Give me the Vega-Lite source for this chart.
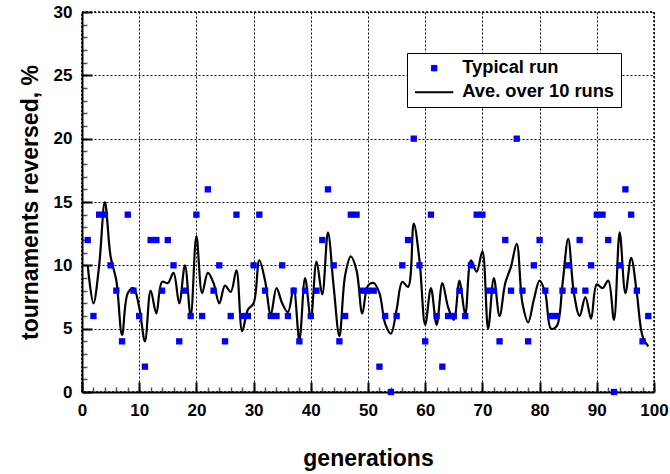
{
  "$schema": "https://vega.github.io/schema/vega-lite/v6.json",
  "width": 572,
  "height": 380,
  "autosize": "none",
  "padding": {"left": 82, "top": 12, "right": 16, "bottom": 82},
  "background": "white",
  "config": {
    "font": "Liberation Sans",
    "view": {"stroke": "black", "strokeDash": [2, 2], "strokeWidth": 1.5},
    "axis": {
      "labelFont": "Liberation Sans",
      "labelFontSize": 17,
      "labelFontWeight": "bold",
      "labelColor": "black",
      "titleFont": "Liberation Sans",
      "titleFontSize": 23,
      "titleFontWeight": "bold",
      "titleColor": "black"
    }
  },
  "datasets": {
    "run": [
      {"gen": 1, "val": 12, "series": "Typical run"}, {"gen": 2, "val": 6, "series": "Typical run"}, {"gen": 3, "val": 14, "series": "Typical run"}, {"gen": 4, "val": 14, "series": "Typical run"}, {"gen": 5, "val": 10, "series": "Typical run"},
      {"gen": 6, "val": 8, "series": "Typical run"}, {"gen": 7, "val": 4, "series": "Typical run"}, {"gen": 8, "val": 14, "series": "Typical run"}, {"gen": 9, "val": 8, "series": "Typical run"}, {"gen": 10, "val": 6, "series": "Typical run"},
      {"gen": 11, "val": 2, "series": "Typical run"}, {"gen": 12, "val": 12, "series": "Typical run"}, {"gen": 13, "val": 12, "series": "Typical run"}, {"gen": 14, "val": 8, "series": "Typical run"}, {"gen": 15, "val": 12, "series": "Typical run"},
      {"gen": 16, "val": 10, "series": "Typical run"}, {"gen": 17, "val": 4, "series": "Typical run"}, {"gen": 18, "val": 8, "series": "Typical run"}, {"gen": 19, "val": 6, "series": "Typical run"}, {"gen": 20, "val": 14, "series": "Typical run"},
      {"gen": 21, "val": 6, "series": "Typical run"}, {"gen": 22, "val": 16, "series": "Typical run"}, {"gen": 23, "val": 8, "series": "Typical run"}, {"gen": 24, "val": 10, "series": "Typical run"}, {"gen": 25, "val": 4, "series": "Typical run"},
      {"gen": 26, "val": 6, "series": "Typical run"}, {"gen": 27, "val": 14, "series": "Typical run"}, {"gen": 28, "val": 6, "series": "Typical run"}, {"gen": 29, "val": 6, "series": "Typical run"}, {"gen": 30, "val": 10, "series": "Typical run"},
      {"gen": 31, "val": 14, "series": "Typical run"}, {"gen": 32, "val": 8, "series": "Typical run"}, {"gen": 33, "val": 6, "series": "Typical run"}, {"gen": 34, "val": 6, "series": "Typical run"}, {"gen": 35, "val": 10, "series": "Typical run"},
      {"gen": 36, "val": 6, "series": "Typical run"}, {"gen": 37, "val": 8, "series": "Typical run"}, {"gen": 38, "val": 4, "series": "Typical run"}, {"gen": 39, "val": 8, "series": "Typical run"}, {"gen": 40, "val": 6, "series": "Typical run"},
      {"gen": 41, "val": 8, "series": "Typical run"}, {"gen": 42, "val": 12, "series": "Typical run"}, {"gen": 43, "val": 16, "series": "Typical run"}, {"gen": 44, "val": 10, "series": "Typical run"}, {"gen": 45, "val": 4, "series": "Typical run"},
      {"gen": 46, "val": 6, "series": "Typical run"}, {"gen": 47, "val": 14, "series": "Typical run"}, {"gen": 48, "val": 14, "series": "Typical run"}, {"gen": 49, "val": 8, "series": "Typical run"}, {"gen": 50, "val": 8, "series": "Typical run"},
      {"gen": 51, "val": 8, "series": "Typical run"}, {"gen": 52, "val": 2, "series": "Typical run"}, {"gen": 53, "val": 6, "series": "Typical run"}, {"gen": 54, "val": 0, "series": "Typical run"}, {"gen": 55, "val": 6, "series": "Typical run"},
      {"gen": 56, "val": 10, "series": "Typical run"}, {"gen": 57, "val": 12, "series": "Typical run"}, {"gen": 58, "val": 20, "series": "Typical run"}, {"gen": 59, "val": 10, "series": "Typical run"}, {"gen": 60, "val": 4, "series": "Typical run"},
      {"gen": 61, "val": 14, "series": "Typical run"}, {"gen": 62, "val": 6, "series": "Typical run"}, {"gen": 63, "val": 2, "series": "Typical run"}, {"gen": 64, "val": 6, "series": "Typical run"}, {"gen": 65, "val": 6, "series": "Typical run"},
      {"gen": 66, "val": 8, "series": "Typical run"}, {"gen": 67, "val": 6, "series": "Typical run"}, {"gen": 68, "val": 10, "series": "Typical run"}, {"gen": 69, "val": 14, "series": "Typical run"}, {"gen": 70, "val": 14, "series": "Typical run"},
      {"gen": 71, "val": 8, "series": "Typical run"}, {"gen": 72, "val": 8, "series": "Typical run"}, {"gen": 73, "val": 4, "series": "Typical run"}, {"gen": 74, "val": 12, "series": "Typical run"}, {"gen": 75, "val": 8, "series": "Typical run"},
      {"gen": 76, "val": 20, "series": "Typical run"}, {"gen": 77, "val": 8, "series": "Typical run"}, {"gen": 78, "val": 4, "series": "Typical run"}, {"gen": 79, "val": 10, "series": "Typical run"}, {"gen": 80, "val": 12, "series": "Typical run"},
      {"gen": 81, "val": 8, "series": "Typical run"}, {"gen": 82, "val": 6, "series": "Typical run"}, {"gen": 83, "val": 6, "series": "Typical run"}, {"gen": 84, "val": 8, "series": "Typical run"}, {"gen": 85, "val": 10, "series": "Typical run"},
      {"gen": 86, "val": 8, "series": "Typical run"}, {"gen": 87, "val": 12, "series": "Typical run"}, {"gen": 88, "val": 8, "series": "Typical run"}, {"gen": 89, "val": 10, "series": "Typical run"}, {"gen": 90, "val": 14, "series": "Typical run"},
      {"gen": 91, "val": 14, "series": "Typical run"}, {"gen": 92, "val": 12, "series": "Typical run"}, {"gen": 93, "val": 0, "series": "Typical run"}, {"gen": 94, "val": 10, "series": "Typical run"}, {"gen": 95, "val": 16, "series": "Typical run"},
      {"gen": 96, "val": 14, "series": "Typical run"}, {"gen": 97, "val": 8, "series": "Typical run"}, {"gen": 98, "val": 4, "series": "Typical run"}, {"gen": 99, "val": 6, "series": "Typical run"}
    ],
    "avg": [
      {"gen": 1, "avg": 10}, {"gen": 2, "avg": 7}, {"gen": 3, "avg": 10}, {"gen": 4, "avg": 15}, {"gen": 5, "avg": 10.7},
      {"gen": 6, "avg": 8.8}, {"gen": 7, "avg": 4.5}, {"gen": 8, "avg": 7.8}, {"gen": 9, "avg": 8.2}, {"gen": 10, "avg": 6.7},
      {"gen": 11, "avg": 4}, {"gen": 12, "avg": 8}, {"gen": 13, "avg": 6.2}, {"gen": 14, "avg": 8.7}, {"gen": 15, "avg": 8.6},
      {"gen": 16, "avg": 9.4}, {"gen": 17, "avg": 7}, {"gen": 18, "avg": 10}, {"gen": 19, "avg": 6}, {"gen": 20, "avg": 12.3},
      {"gen": 21, "avg": 7.8}, {"gen": 22, "avg": 9.4}, {"gen": 23, "avg": 8.6}, {"gen": 24, "avg": 7}, {"gen": 25, "avg": 8.4},
      {"gen": 26, "avg": 7.9}, {"gen": 27, "avg": 9.6}, {"gen": 28, "avg": 4.8}, {"gen": 29, "avg": 6.5}, {"gen": 30, "avg": 7},
      {"gen": 31, "avg": 10.4}, {"gen": 32, "avg": 8.8}, {"gen": 33, "avg": 6.1}, {"gen": 34, "avg": 8.2}, {"gen": 35, "avg": 7},
      {"gen": 36, "avg": 6.3}, {"gen": 37, "avg": 8.2}, {"gen": 38, "avg": 4.1}, {"gen": 39, "avg": 9}, {"gen": 40, "avg": 5.8},
      {"gen": 41, "avg": 10.3}, {"gen": 42, "avg": 7.7}, {"gen": 43, "avg": 12.6}, {"gen": 44, "avg": 8.3}, {"gen": 45, "avg": 4.4},
      {"gen": 46, "avg": 9.2}, {"gen": 47, "avg": 10.7}, {"gen": 48, "avg": 9.6}, {"gen": 49, "avg": 6.2}, {"gen": 50, "avg": 8.4},
      {"gen": 51, "avg": 8.6}, {"gen": 52, "avg": 7.8}, {"gen": 53, "avg": 5.4}, {"gen": 54, "avg": 4.6}, {"gen": 55, "avg": 6.5},
      {"gen": 56, "avg": 8.7}, {"gen": 57, "avg": 8.3}, {"gen": 58, "avg": 13.3}, {"gen": 59, "avg": 10.4}, {"gen": 60, "avg": 5.3},
      {"gen": 61, "avg": 8.2}, {"gen": 62, "avg": 5.3}, {"gen": 63, "avg": 8.6}, {"gen": 64, "avg": 6.7}, {"gen": 65, "avg": 5.7},
      {"gen": 66, "avg": 8.8}, {"gen": 67, "avg": 6.1}, {"gen": 68, "avg": 10.4}, {"gen": 69, "avg": 9.5}, {"gen": 70, "avg": 11.1},
      {"gen": 71, "avg": 5}, {"gen": 72, "avg": 9}, {"gen": 73, "avg": 6}, {"gen": 74, "avg": 8.6}, {"gen": 75, "avg": 9.9},
      {"gen": 76, "avg": 11.7}, {"gen": 77, "avg": 7}, {"gen": 78, "avg": 5.5}, {"gen": 79, "avg": 7.3}, {"gen": 80, "avg": 8.8},
      {"gen": 81, "avg": 7.8}, {"gen": 82, "avg": 5}, {"gen": 83, "avg": 5.2}, {"gen": 84, "avg": 8.5}, {"gen": 85, "avg": 12.1},
      {"gen": 86, "avg": 7.8}, {"gen": 87, "avg": 6}, {"gen": 88, "avg": 7.5}, {"gen": 89, "avg": 5.8}, {"gen": 90, "avg": 8.5},
      {"gen": 91, "avg": 8.2}, {"gen": 92, "avg": 8.8}, {"gen": 93, "avg": 5.7}, {"gen": 94, "avg": 12.6}, {"gen": 95, "avg": 7.8},
      {"gen": 96, "avg": 10.6}, {"gen": 97, "avg": 7.8}, {"gen": 98, "avg": 4.4}, {"gen": 99, "avg": 3.6}
    ]
  },
  "layer": [
    {
      "data": {"name": "avg"},
      "mark": {"type": "line", "interpolate": "catmull-rom", "color": "black", "strokeWidth": 2.2},
      "encoding": {
        "x": {
          "field": "gen", "type": "quantitative",
          "scale": {"domain": [0, 100], "nice": false, "zero": false},
          "axis": {"orient": "bottom", "values": [0,2,4,6,8,10,12,14,16,18,20,22,24,26,28,30,32,34,36,38,40,42,44,46,48,50,52,54,56,58,60,62,64,66,68,70,72,74,76,78,80,82,84,86,88,90,92,94,96,98,100], "labels": false, "grid": false, "domain": false, "ticks": true, "tickSize": -5, "tickWidth": 1.5, "tickColor": "#555555", "title": null}
        },
        "y": {
          "field": "avg", "type": "quantitative",
          "scale": {"domain": [0, 30], "nice": false},
          "axis": {"orient": "left", "values": [0,1,2,3,4,5,6,7,8,9,10,11,12,13,14,15,16,17,18,19,20,21,22,23,24,25,26,27,28,29,30], "labels": false, "grid": false, "domain": false, "ticks": true, "tickSize": -5, "tickWidth": 1.5, "tickColor": "#555555", "title": null}
        }
      }
    },
    {
      "data": {"name": "run"},
      "mark": {"type": "point", "shape": "square", "filled": true, "size": 40, "opacity": 1},
      "encoding": {
        "x": {
          "field": "gen", "type": "quantitative",
          "scale": {"domain": [0, 100], "nice": false, "zero": false},
          "axis": {"orient": "bottom", "values": [0,10,20,30,40,50,60,70,80,90,100], "grid": true, "gridColor": "black", "gridDash": [2, 2], "gridWidth": 1, "gridOpacity": 1, "domain": true, "domainColor": "black", "domainWidth": 2, "ticks": true, "tickSize": -10, "tickWidth": 2, "tickColor": "black", "labelPadding": 20, "labelFlush": false, "title": "generations", "titlePadding": 29}
        },
        "y": {
          "field": "val", "type": "quantitative",
          "scale": {"domain": [0, 30], "nice": false},
          "axis": {"orient": "left", "values": [0,5,10,15,20,25,30], "grid": true, "gridColor": "black", "gridDash": [2, 2], "gridWidth": 1, "gridOpacity": 1, "domain": true, "domainColor": "black", "domainWidth": 2, "ticks": true, "tickSize": -10, "tickWidth": 2, "tickColor": "black", "labelPadding": 20, "labelFlush": false, "title": "tournaments reversed, %", "titlePadding": 11}
        },
        "color": {
          "field": "series", "type": "nominal",
          "scale": {"domain": ["Typical run", "Ave. over 10 runs"], "range": ["#0000ff", "#000000"]},
          "legend": {
            "title": null,
            "orient": "none",
            "legendX": 325,
            "legendY": 41,
            "strokeColor": "black",
            "fillColor": "white",
            "padding": 6,
            "labelFont": "Liberation Sans",
            "labelFontSize": 18.3,
            "labelFontWeight": "bold",
            "labelColor": "black",
            "labelLimit": 400,
            "labelOffset": 19,
            "symbolOffset": 12,
            "rowPadding": 5,
            "symbolType": {"expr": "datum.value === 'Typical run' ? 'square' : 'M-7,0H7'"},
            "symbolSize": 30,
            "symbolStrokeColor": {"expr": "datum.value === 'Typical run' ? '#0000ff' : 'black'"},
            "symbolStrokeWidth": {"expr": "datum.value === 'Typical run' ? 1 : 2"},
            "symbolOpacity": 1
          }
        }
      }
    }
  ],
  "resolve": {"axis": {"x": "independent", "y": "independent"}}
}
